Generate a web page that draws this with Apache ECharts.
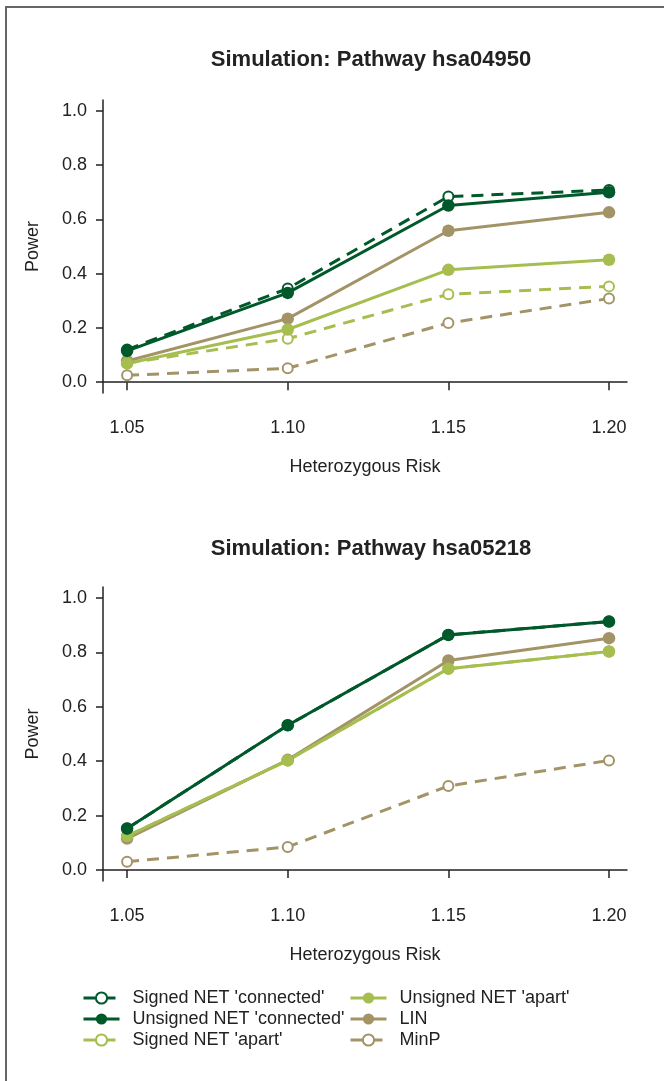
<!DOCTYPE html>
<html>
<head>
<meta charset="utf-8">
<script src="https://cdn.jsdelivr.net/npm/echarts@6/dist/echarts.min.js"></script>
<style>
html,body{margin:0;padding:0;background:#fff;}
#chart{width:664px;height:1081px;}
</style>
</head>
<body>
<div id="chart"></div>
<script>
// ---- data ----
const xValues = [1.05, 1.10, 1.15, 1.20];
const yTicks = [0, 0.2, 0.4, 0.6, 0.8, 1.0];
const seriesNames = ["Signed NET 'connected'", "Unsigned NET 'connected'", "Signed NET 'apart'", "Unsigned NET 'apart'", "LIN", "MinP"];
const titles = ["Simulation: Pathway hsa04950", "Simulation: Pathway hsa05218"];

// Pathway hsa04950
const top_signedConnected   = [0.120, 0.345, 0.684, 0.708];
const top_unsignedConnected = [0.115, 0.329, 0.651, 0.700];
const top_signedApart       = [0.070, 0.160, 0.324, 0.353];
const top_unsignedApart     = [0.069, 0.194, 0.414, 0.451];
const top_LIN               = [0.078, 0.234, 0.558, 0.626];
const top_MinP              = [0.025, 0.051, 0.218, 0.308];

// Pathway hsa05218
const bot_signedConnected   = [0.153, 0.532, 0.864, 0.913];
const bot_unsignedConnected = [0.153, 0.532, 0.864, 0.913];
const bot_signedApart       = [0.125, 0.403, 0.740, 0.803];
const bot_unsignedApart     = [0.125, 0.403, 0.740, 0.803];
const bot_LIN               = [0.116, 0.405, 0.770, 0.852];
const bot_MinP              = [0.031, 0.085, 0.309, 0.403];

// ---- styles ----
const DARK = '#00592a', LIGHT = '#a6be50', TAN = '#a39467';
const FONT = 'Liberation Sans, Arial, Helvetica, sans-serif';
const DASH = [12, 8];
const styleOf = {
  "Signed NET 'connected'":   {color: DARK,  dashed: true,  empty: true},
  "Unsigned NET 'connected'": {color: DARK,  dashed: false, empty: false},
  "Signed NET 'apart'":       {color: LIGHT, dashed: true,  empty: true},
  "Unsigned NET 'apart'":     {color: LIGHT, dashed: false, empty: false},
  "LIN":                      {color: TAN,   dashed: false, empty: false},
  "MinP":                     {color: TAN,   dashed: true,  empty: true}
};
const topData = {
  "Signed NET 'connected'": top_signedConnected, "Unsigned NET 'connected'": top_unsignedConnected,
  "Signed NET 'apart'": top_signedApart, "Unsigned NET 'apart'": top_unsignedApart,
  "LIN": top_LIN, "MinP": top_MinP
};
const botData = {
  "Signed NET 'connected'": bot_signedConnected, "Unsigned NET 'connected'": bot_unsignedConnected,
  "Signed NET 'apart'": bot_signedApart, "Unsigned NET 'apart'": bot_unsignedApart,
  "LIN": bot_LIN, "MinP": bot_MinP
};
// drawing order (later on top)
const drawOrder = ["MinP", "Signed NET 'apart'", "LIN", "Unsigned NET 'apart'", "Signed NET 'connected'", "Unsigned NET 'connected'"];

function makeSeries(dataMap, idx) {
  return drawOrder.map(name => {
    const s = styleOf[name];
    return {
      name: name,
      type: 'line',
      xAxisIndex: idx, yAxisIndex: idx,
      data: xValues.map((x, i) => [x, dataMap[name][i]]),
      symbol: s.empty ? 'emptyCircle' : 'circle',
      symbolSize: s.empty ? 10 : 12.5,
      showSymbol: true,
      lineStyle: {color: s.color, width: 3, type: s.dashed ? DASH : 'solid'},
      itemStyle: {color: s.color, borderColor: s.color, borderWidth: s.empty ? 2.6 : 0},
      emphasis: {disabled: true},
      animation: false
    };
  });
}

function xAxisOf(idx) {
  return {
    type: 'value', gridIndex: idx, min: 1.0425, max: 1.2056,
    name: 'Heterozygous Risk', nameLocation: 'middle', nameGap: 65,
    nameTextStyle: {fontFamily: FONT, fontSize: 18, color: '#222'},
    splitLine: {show: false},
    axisLine: {show: true, lineStyle: {color: '#222', width: 1.5}},
    axisTick: {show: true, length: 8, lineStyle: {color: '#222', width: 1.5}, customValues: xValues},
    axisLabel: {fontFamily: FONT, fontSize: 18, color: '#222', margin: 26, customValues: xValues,
                formatter: v => v.toFixed(2)}
  };
}
function yAxisOf(idx) {
  return {
    type: 'value', gridIndex: idx, min: -0.04, max: 1.04,
    name: 'Power', nameLocation: 'middle', nameGap: 61, nameRotate: 90,
    nameTextStyle: {fontFamily: FONT, fontSize: 18, color: '#222'},
    splitLine: {show: false},
    axisLine: {show: true, lineStyle: {color: '#222', width: 1.5}},
    axisTick: {show: true, length: 7, lineStyle: {color: '#222', width: 1.5}, customValues: yTicks},
    axisLabel: {fontFamily: FONT, fontSize: 18, color: '#222', margin: 16, customValues: yTicks,
                formatter: v => v.toFixed(1)}
  };
}

function legendOf(names, left) {
  return {
    orient: 'vertical', left: left, top: 989, padding: 0,
    data: names.map(n => ({
      name: n,
      lineStyle: {type: styleOf[n].dashed ? DASH : 'solid', width: 3}
    })),
    itemWidth: 36, itemHeight: 14, itemGap: 3,
    selectedMode: false,
    textStyle: {fontFamily: FONT, fontSize: 18, color: '#222', lineHeight: 16, padding: [0, 0, 0, 8]}
  };
}

const chart = echarts.init(document.getElementById('chart'), null, {renderer: 'canvas'});
chart.setOption({
  animation: false,
  backgroundColor: '#fff',
  graphic: [{
    type: 'rect', shape: {x: 6, y: 7, width: 800, height: 1200},
    style: {fill: 'none', stroke: '#666', lineWidth: 2}, silent: true
  }],
  title: [
    {text: titles[0], left: 366, top: 44, textAlign: 'center',
     textStyle: {fontFamily: FONT, fontSize: 22, fontWeight: 'bold', color: '#222'}},
    {text: titles[1], left: 366, top: 533, textAlign: 'center',
     textStyle: {fontFamily: FONT, fontSize: 22, fontWeight: 'bold', color: '#222'}}
  ],
  legend: [
    legendOf(seriesNames.slice(0, 3), 82),
    legendOf(seriesNames.slice(3), 349)
  ],
  grid: [
    {left: 103, right: 37, top: 100, height: 293, containLabel: false},
    {left: 103, right: 37, top: 587, height: 294, containLabel: false}
  ],
  xAxis: [xAxisOf(0), xAxisOf(1)],
  yAxis: [yAxisOf(0), yAxisOf(1)],
  series: makeSeries(topData, 0).concat(makeSeries(botData, 1))
});
</script>
</body>
</html>
